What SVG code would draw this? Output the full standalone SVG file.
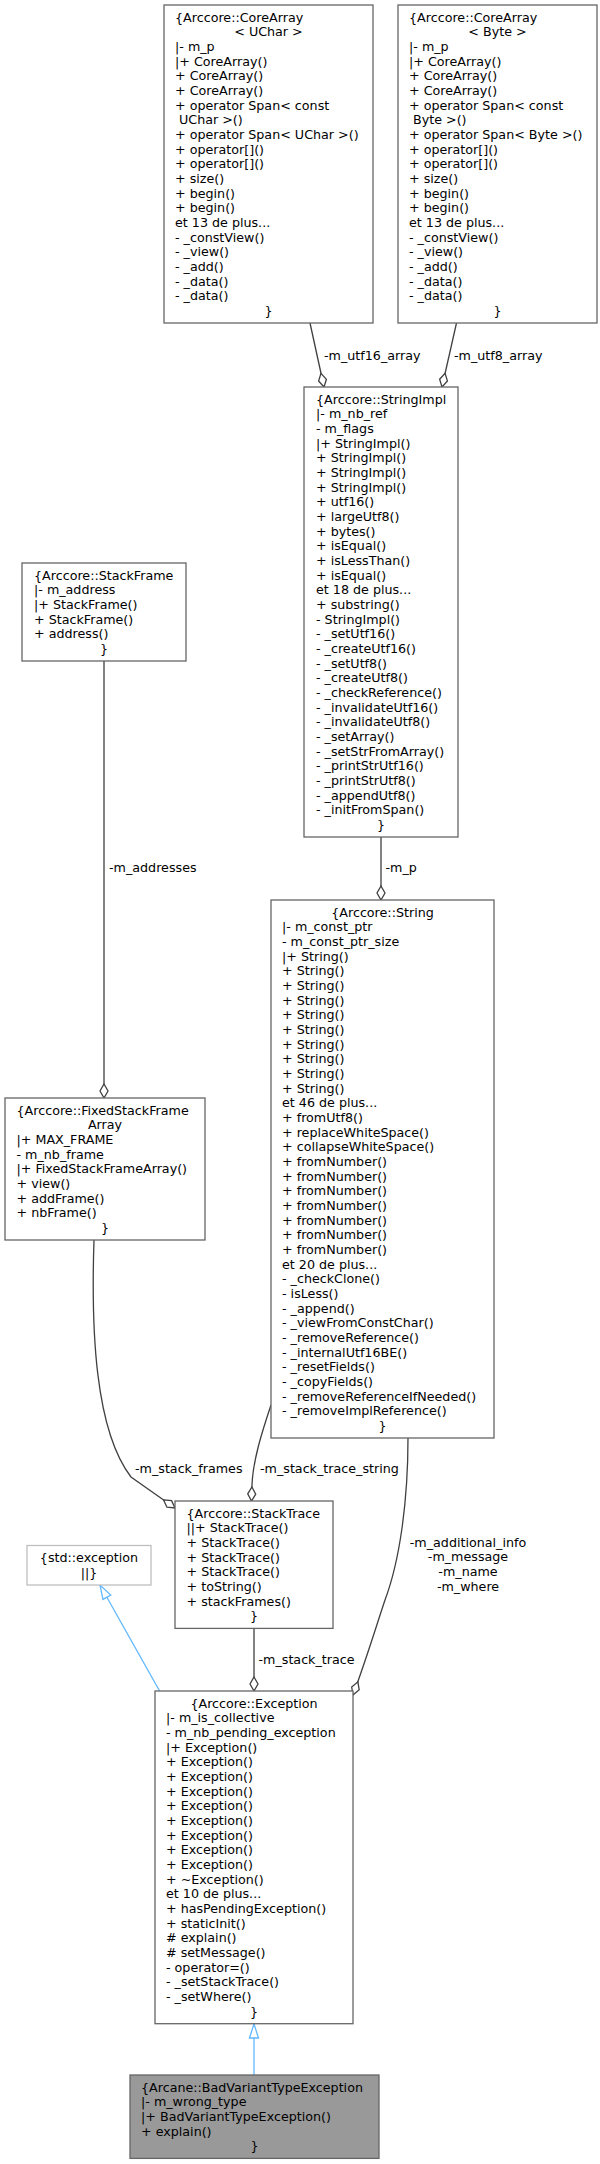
<svg xmlns="http://www.w3.org/2000/svg" width="600" height="2164" viewBox="0 0 600 2164">
<style>
.t{font-family:"DejaVu Sans",sans-serif;font-size:12.7px;fill:#000}
.c{text-anchor:middle}
.box{fill:#fff;stroke:#666;stroke-width:1.3}
.gray{fill:#999;stroke:#666;stroke-width:1.3}
.ext{fill:#fff;stroke:#bfbfbf;stroke-width:1.3}
.e{fill:none;stroke:#404040;stroke-width:1.3}
.inh{fill:none;stroke:#63b8ff;stroke-width:1.3}
</style>
<defs>
<marker id="dia" viewBox="0 0 16 10" refX="15" refY="5" markerWidth="16" markerHeight="10" orient="auto" markerUnits="userSpaceOnUse"><path d="M1,5 L8,1 L15,5 L8,9 Z" fill="#fff" stroke="#404040" stroke-width="1.3"/></marker>
<marker id="tri" viewBox="0 0 16 12" refX="15" refY="6" markerWidth="16" markerHeight="12" orient="auto" markerUnits="userSpaceOnUse"><path d="M1,1.5 L15,6 L1,10.5 Z" fill="#fff" stroke="#63b8ff" stroke-width="1.3"/></marker>
</defs>
<rect width="600" height="2164" fill="#fff"/>

<g id="edges">
<path class="e" d="M310,323 L324,387" marker-end="url(#dia)"/>
<path class="e" d="M456.5,323 L442,387" marker-end="url(#dia)"/>
<path class="e" d="M104,661 L104,1098" marker-end="url(#dia)"/>
<path class="e" d="M381,837 L381,900" marker-end="url(#dia)"/>
<path class="e" d="M94,1240 C91,1330 95,1430 131,1477 L175,1508" marker-end="url(#dia)"/>
<path class="e" d="M271,1405 C262,1432 253,1460 252,1485 L251.5,1501" marker-end="url(#dia)"/>
<path class="e" d="M408,1438 C408,1500 400,1560 385,1600 C375,1630 366,1660 353,1695" marker-end="url(#dia)"/>
<path class="e" d="M254,1628 L254,1691" marker-end="url(#dia)"/>
<path class="inh" d="M159.6,1691 L100,1585" marker-end="url(#tri)"/>
<path class="inh" d="M254,2075 L254,2024" marker-end="url(#tri)"/>
<text class="t" x="324" y="359.5">-m_utf16_array</text>
<text class="t" x="454" y="359.5">-m_utf8_array</text>
<text class="t" x="109" y="871.5">-m_addresses</text>
<text class="t" x="385.5" y="871.5">-m_p</text>
<text class="t" x="135" y="1472.5">-m_stack_frames</text>
<text class="t" x="260" y="1472.5">-m_stack_trace_string</text>
<text class="t c" x="468" y="1546.5">-m_additional_info</text>
<text class="t c" x="468" y="1561">-m_message</text>
<text class="t c" x="468" y="1576">-m_name</text>
<text class="t c" x="468" y="1590.5">-m_where</text>
<text class="t" x="258.5" y="1663.5">-m_stack_trace</text>
</g>

<g id="coreArrayUChar">
<rect class="box" x="164" y="5" width="209" height="318"/>
<text class="t" x="175" y="21.5">{Arccore::CoreArray</text>
<text class="t c" x="268.5" y="36.17">&lt; UChar &gt;</text>
<text class="t" x="175" y="50.84">|- m_p<tspan x="175" dy="14.67">|+ CoreArray()</tspan><tspan x="175" dy="14.67">+ CoreArray()</tspan><tspan x="175" dy="14.67">+ CoreArray()</tspan><tspan x="175" dy="14.67">+ operator Span&lt; const</tspan><tspan x="179" dy="14.67">UChar &gt;()</tspan><tspan x="175" dy="14.67">+ operator Span&lt; UChar &gt;()</tspan><tspan x="175" dy="14.67">+ operator[]()</tspan><tspan x="175" dy="14.67">+ operator[]()</tspan><tspan x="175" dy="14.67">+ size()</tspan><tspan x="175" dy="14.67">+ begin()</tspan><tspan x="175" dy="14.67">+ begin()</tspan><tspan x="175" dy="14.67">et 13 de plus...</tspan><tspan x="175" dy="14.67">- _constView()</tspan><tspan x="175" dy="14.67">- _view()</tspan><tspan x="175" dy="14.67">- _add()</tspan><tspan x="175" dy="14.67">- _data()</tspan><tspan x="175" dy="14.67">- _data()</tspan></text>
<text class="t c" x="268.5" y="314.9">}</text>
</g>

<g id="coreArrayByte">
<rect class="box" x="398" y="5" width="199" height="318"/>
<text class="t" x="409" y="21.5">{Arccore::CoreArray</text>
<text class="t c" x="497.5" y="36.17">&lt; Byte &gt;</text>
<text class="t" x="409" y="50.84">|- m_p<tspan x="409" dy="14.67">|+ CoreArray()</tspan><tspan x="409" dy="14.67">+ CoreArray()</tspan><tspan x="409" dy="14.67">+ CoreArray()</tspan><tspan x="409" dy="14.67">+ operator Span&lt; const</tspan><tspan x="413" dy="14.67">Byte &gt;()</tspan><tspan x="409" dy="14.67">+ operator Span&lt; Byte &gt;()</tspan><tspan x="409" dy="14.67">+ operator[]()</tspan><tspan x="409" dy="14.67">+ operator[]()</tspan><tspan x="409" dy="14.67">+ size()</tspan><tspan x="409" dy="14.67">+ begin()</tspan><tspan x="409" dy="14.67">+ begin()</tspan><tspan x="409" dy="14.67">et 13 de plus...</tspan><tspan x="409" dy="14.67">- _constView()</tspan><tspan x="409" dy="14.67">- _view()</tspan><tspan x="409" dy="14.67">- _add()</tspan><tspan x="409" dy="14.67">- _data()</tspan><tspan x="409" dy="14.67">- _data()</tspan></text>
<text class="t c" x="497.5" y="314.9">}</text>
</g>

<g id="stringImpl">
<rect class="box" x="304" y="387" width="154" height="450"/>
<text class="t" x="316" y="403.5">{Arccore::StringImpl<tspan x="316" dy="14.67">|- m_nb_ref</tspan><tspan x="316" dy="14.67">- m_flags</tspan><tspan x="316" dy="14.67">|+ StringImpl()</tspan><tspan x="316" dy="14.67">+ StringImpl()</tspan><tspan x="316" dy="14.67">+ StringImpl()</tspan><tspan x="316" dy="14.67">+ StringImpl()</tspan><tspan x="316" dy="14.67">+ utf16()</tspan><tspan x="316" dy="14.67">+ largeUtf8()</tspan><tspan x="316" dy="14.67">+ bytes()</tspan><tspan x="316" dy="14.67">+ isEqual()</tspan><tspan x="316" dy="14.67">+ isLessThan()</tspan><tspan x="316" dy="14.67">+ isEqual()</tspan><tspan x="316" dy="14.67">et 18 de plus...</tspan><tspan x="316" dy="14.67">+ substring()</tspan><tspan x="316" dy="14.67">- StringImpl()</tspan><tspan x="316" dy="14.67">- _setUtf16()</tspan><tspan x="316" dy="14.67">- _createUtf16()</tspan><tspan x="316" dy="14.67">- _setUtf8()</tspan><tspan x="316" dy="14.67">- _createUtf8()</tspan><tspan x="316" dy="14.67">- _checkReference()</tspan><tspan x="316" dy="14.67">- _invalidateUtf16()</tspan><tspan x="316" dy="14.67">- _invalidateUtf8()</tspan><tspan x="316" dy="14.67">- _setArray()</tspan><tspan x="316" dy="14.67">- _setStrFromArray()</tspan><tspan x="316" dy="14.67">- _printStrUtf16()</tspan><tspan x="316" dy="14.67">- _printStrUtf8()</tspan><tspan x="316" dy="14.67">- _appendUtf8()</tspan><tspan x="316" dy="14.67">- _initFromSpan()</tspan></text>
<text class="t c" x="381" y="828.9">}</text>
</g>

<g id="stackFrame">
<rect class="box" x="22" y="563" width="164" height="98"/>
<text class="t" x="34" y="579.5">{Arccore::StackFrame<tspan x="34" dy="14.67">|- m_address</tspan><tspan x="34" dy="14.67">|+ StackFrame()</tspan><tspan x="34" dy="14.67">+ StackFrame()</tspan><tspan x="34" dy="14.67">+ address()</tspan></text>
<text class="t c" x="104" y="652.85">}</text>
</g>

<g id="fixedStackFrameArray">
<rect class="box" x="5" y="1098" width="200" height="142"/>
<text class="t" x="16.5" y="1114.5">{Arccore::FixedStackFrame</text>
<text class="t c" x="105" y="1129.17">Array</text>
<text class="t" x="16.5" y="1143.84">|+ MAX_FRAME<tspan x="16.5" dy="14.67">- m_nb_frame</tspan><tspan x="16.5" dy="14.67">|+ FixedStackFrameArray()</tspan><tspan x="16.5" dy="14.67">+ view()</tspan><tspan x="16.5" dy="14.67">+ addFrame()</tspan><tspan x="16.5" dy="14.67">+ nbFrame()</tspan></text>
<text class="t c" x="105" y="1231.86">}</text>
</g>

<g id="string">
<rect class="box" x="271" y="900" width="223" height="538"/>
<text class="t c" x="382.5" y="916.5">{Arccore::String</text>
<text class="t" x="282" y="931.17">|- m_const_ptr<tspan x="282" dy="14.67">- m_const_ptr_size</tspan><tspan x="282" dy="14.67">|+ String()</tspan><tspan x="282" dy="14.67">+ String()</tspan><tspan x="282" dy="14.67">+ String()</tspan><tspan x="282" dy="14.67">+ String()</tspan><tspan x="282" dy="14.67">+ String()</tspan><tspan x="282" dy="14.67">+ String()</tspan><tspan x="282" dy="14.67">+ String()</tspan><tspan x="282" dy="14.67">+ String()</tspan><tspan x="282" dy="14.67">+ String()</tspan><tspan x="282" dy="14.67">+ String()</tspan><tspan x="282" dy="14.67">et 46 de plus...</tspan><tspan x="282" dy="14.67">+ fromUtf8()</tspan><tspan x="282" dy="14.67">+ replaceWhiteSpace()</tspan><tspan x="282" dy="14.67">+ collapseWhiteSpace()</tspan><tspan x="282" dy="14.67">+ fromNumber()</tspan><tspan x="282" dy="14.67">+ fromNumber()</tspan><tspan x="282" dy="14.67">+ fromNumber()</tspan><tspan x="282" dy="14.67">+ fromNumber()</tspan><tspan x="282" dy="14.67">+ fromNumber()</tspan><tspan x="282" dy="14.67">+ fromNumber()</tspan><tspan x="282" dy="14.67">+ fromNumber()</tspan><tspan x="282" dy="14.67">et 20 de plus...</tspan><tspan x="282" dy="14.67">- _checkClone()</tspan><tspan x="282" dy="14.67">- isLess()</tspan><tspan x="282" dy="14.67">- _append()</tspan><tspan x="282" dy="14.67">- _viewFromConstChar()</tspan><tspan x="282" dy="14.67">- _removeReference()</tspan><tspan x="282" dy="14.67">- _internalUtf16BE()</tspan><tspan x="282" dy="14.67">- _resetFields()</tspan><tspan x="282" dy="14.67">- _copyFields()</tspan><tspan x="282" dy="14.67">- _removeReferenceIfNeeded()</tspan><tspan x="282" dy="14.67">- _removeImplReference()</tspan></text>
<text class="t c" x="382.5" y="1429.95">}</text>
</g>

<g id="stackTrace">
<rect class="box" x="175" y="1501" width="158" height="127.4"/>
<text class="t" x="186.5" y="1517.5">{Arccore::StackTrace<tspan x="186.5" dy="14.67">||+ StackTrace()</tspan><tspan x="186.5" dy="14.67">+ StackTrace()</tspan><tspan x="186.5" dy="14.67">+ StackTrace()</tspan><tspan x="186.5" dy="14.67">+ StackTrace()</tspan><tspan x="186.5" dy="14.67">+ toString()</tspan><tspan x="186.5" dy="14.67">+ stackFrames()</tspan></text>
<text class="t c" x="254" y="1620.2">}</text>
</g>

<g id="stdException">
<rect class="ext" x="27" y="1545.5" width="124" height="39.5"/>
<text class="t c" x="89" y="1562">{std::exception</text>
<text class="t c" x="89" y="1576.67">||}</text>
</g>

<g id="exception">
<rect class="box" x="155" y="1691" width="198" height="332.7"/>
<text class="t c" x="254" y="1707.5">{Arccore::Exception</text>
<text class="t" x="166" y="1722.17">|- m_is_collective<tspan x="166" dy="14.67">- m_nb_pending_exception</tspan><tspan x="166" dy="14.67">|+ Exception()</tspan><tspan x="166" dy="14.67">+ Exception()</tspan><tspan x="166" dy="14.67">+ Exception()</tspan><tspan x="166" dy="14.67">+ Exception()</tspan><tspan x="166" dy="14.67">+ Exception()</tspan><tspan x="166" dy="14.67">+ Exception()</tspan><tspan x="166" dy="14.67">+ Exception()</tspan><tspan x="166" dy="14.67">+ Exception()</tspan><tspan x="166" dy="14.67">+ Exception()</tspan><tspan x="166" dy="14.67">+ ~Exception()</tspan><tspan x="166" dy="14.67">et 10 de plus...</tspan><tspan x="166" dy="14.67">+ hasPendingException()</tspan><tspan x="166" dy="14.67">+ staticInit()</tspan><tspan x="166" dy="14.67"># explain()</tspan><tspan x="166" dy="14.67"># setMessage()</tspan><tspan x="166" dy="14.67">- operator=()</tspan><tspan x="166" dy="14.67">- _setStackTrace()</tspan><tspan x="166" dy="14.67">- _setWhere()</tspan></text>
<text class="t c" x="254" y="2015.6">}</text>
</g>

<g id="badVariantTypeException">
<rect class="gray" x="130" y="2075" width="249" height="83.4"/>
<text class="t" x="141" y="2091.5">{Arcane::BadVariantTypeException<tspan x="141" dy="14.67">|- m_wrong_type</tspan><tspan x="141" dy="14.67">|+ BadVariantTypeException()</tspan><tspan x="141" dy="14.67">+ explain()</tspan></text>
<text class="t c" x="254.5" y="2150.2">}</text>
</g>
</svg>
